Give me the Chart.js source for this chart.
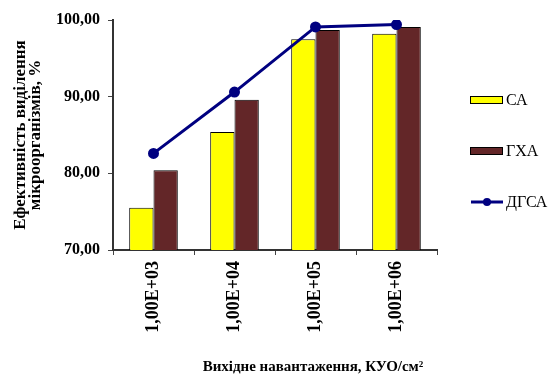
<!DOCTYPE html>
<html>
<head>
  <title>Ефективність виділення</title>
  <script src="https://cdn.jsdelivr.net/npm/chart.js"></script>
  <style>
    body { margin: 0; background: #fff; }
  </style>
</head>
<body>
  <canvas id="myChart" width="549" height="376"></canvas>
  <script>
    // data
    const loads = ['1,00E+03', '1,00E+04', '1,00E+05', '1,00E+06'];
    const caValues = [75.5, 85.4, 97.5, 98.2];
    const gxaValues = [80.4, 89.6, 98.7, 99.1];
    const dgsaValues = [82.6, 90.6, 99.1, 99.4];
    const seriesNames = ['СА', 'ГХА', 'ДГСА'];
    const yTicks = [70, 80, 90, 100];

    const serif = "'Liberation Serif', 'Times New Roman', serif";

    // legend drawn on the right, like the original
    const sideLegend = {
      id: 'sideLegend',
      afterDraw(chart) {
        const ctx = chart.ctx;
        ctx.save();
        chart.data.datasets.forEach((ds, i) => {
          const y = 100 + i * 51;
          if (ds.type === 'line') {
            ctx.strokeStyle = ds.borderColor;
            ctx.lineWidth = 3;
            ctx.beginPath();
            ctx.moveTo(471, y);
            ctx.lineTo(503, y);
            ctx.stroke();
            ctx.fillStyle = ds.borderColor;
            ctx.beginPath();
            ctx.arc(487, y, 4, 0, Math.PI * 2);
            ctx.fill();
          } else {
            ctx.fillStyle = ds.backgroundColor;
            ctx.fillRect(470, y - 4, 33, 7);
            ctx.strokeStyle = '#000';
            ctx.lineWidth = 1;
            ctx.strokeRect(470.5, y - 3.5, 32, 7);
          }
          ctx.fillStyle = '#000';
          ctx.font = '16px ' + serif;
          ctx.textBaseline = 'middle';
          ctx.textAlign = 'left';
          ctx.fillText(ds.label, 506, y + 1);
        });
        // x axis title
        ctx.font = 'bold 15px ' + serif;
        ctx.textAlign = 'center';
        ctx.fillText('Вихідне навантаження, КУО/см²', 313, 367);
        ctx.restore();
      }
    };

    const ctx = document.getElementById('myChart').getContext('2d');
    const myChart = new Chart(ctx, {
      type: 'bar',
      data: {
        labels: loads,
        datasets: [{
          label: seriesNames[0],
          data: caValues,
          backgroundColor: '#ffff00',
          borderColor: '#000000',
          borderWidth: 1,
          order: 2
        }, {
          label: seriesNames[1],
          data: gxaValues,
          backgroundColor: '#632628',
          borderColor: '#000000',
          borderWidth: 1,
          order: 2
        }, {
          type: 'line',
          label: seriesNames[2],
          data: dgsaValues,
          borderColor: '#000080',
          backgroundColor: '#000080',
          borderWidth: 3,
          pointRadius: 4,
          pointBackgroundColor: '#000080',
          tension: 0,
          order: 1
        }]
      },
      options: {
        responsive: false,
        animation: false,
        layout: { padding: { left: 0, top: 20, right: 112, bottom: 0 } },
        plugins: {
          legend: { display: false },
          tooltip: { enabled: false }
        },
        datasets: {
          bar: { categoryPercentage: 0.6, barPercentage: 1 }
        },
        scales: {
          x: {
            afterFit(scale) { scale.height = 126; },
            grid: { drawOnChartArea: false, tickLength: 5, color: '#444', offset: true },
            border: { color: '#333', width: 2 },
            ticks: {
              minRotation: 90,
              maxRotation: 90,
              padding: 6,
              color: '#000',
              font: { family: serif, size: 18, weight: 'bold' }
            }
          },
          y: {
            min: 70,
            max: 100,
            afterFit(scale) { scale.width = 113; },
            afterBuildTicks(scale) { scale.ticks = yTicks.map(v => ({ value: v })); },
            grid: { drawOnChartArea: false, tickLength: 5, color: '#444' },
            border: { color: '#333', width: 2 },
            ticks: {
              padding: 8,
              color: '#000',
              font: { family: serif, size: 16, weight: 'bold' },
              callback: v => v.toFixed(2).replace('.', ',')
            },
            title: {
              display: true,
              text: ['Ефективність виділення', 'мікроорганізмів, %'],
              color: '#000',
              padding: { top: 13, bottom: 0 },
              font: { family: serif, size: 17, weight: 'bold', lineHeight: '15px' }
            }
          }
        }
      },
      plugins: [sideLegend]
    });
  </script>
</body>
</html>
